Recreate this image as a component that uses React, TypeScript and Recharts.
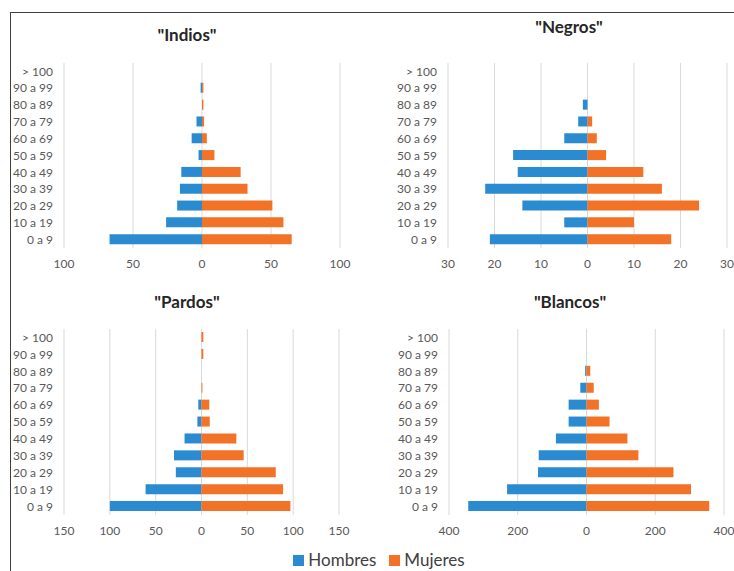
import React from 'react'
import { BarChart, Bar, XAxis, YAxis, CartesianGrid } from 'recharts'

const ages = ['0 a 9', '10 a 19', '20 a 29', '30 a 39', '40 a 49', '50 a 59', '60 a 69', '70 a 79', '80 a 89', '90 a 99', '> 100']

const indiosHombres = [67, 26, 18, 16, 15, 2.5, 7.5, 4, 0, 1, 0]
const indiosMujeres = [65, 59, 51, 33, 28, 9, 3.5, 1.5, 1, 1, 0]
const negrosHombres = [21, 5, 14, 22, 15, 16, 5, 2, 1, 0, 0]
const negrosMujeres = [18, 10, 24, 16, 12, 4, 2, 1, 0, 0, 0]
const pardosHombres = [100, 61, 28, 30, 18.5, 4.5, 3.5, 0, 0, 0, 0]
const pardosMujeres = [97, 89, 81, 46, 38, 9, 8.5, 1, 0, 2, 2]
const blancosHombres = [344, 231, 141, 139, 89, 52, 52, 18, 4, 0, 0]
const blancosMujeres = [357, 304, 253, 151, 119, 67, 36, 21, 11, 0, 0]

const indiosTicks = [-100, -50, 0, 50, 100]
const negrosTicks = [-30, -20, -10, 0, 10, 20, 30]
const pardosTicks = [-150, -100, -50, 0, 50, 100, 150]
const blancosTicks = [-400, -200, 0, 200, 400]

const seriesNames = ['Hombres', 'Mujeres']
const BLUE = '#2a8bd0'
const ORANGE = '#f27227'
const FONT = 'Lato, "Open Sans", sans-serif'

// men go to the left as negative values
const buildRows = (hombres: number[], mujeres: number[]) =>
  ages.map((age, i) => ({ age, hombres: -hombres[i], mujeres: mujeres[i] }))

type PyramidProps = {
  title: string
  data: { age: string; hombres: number; mujeres: number }[]
  ticks: number[]
  left: number
  top: number
  width: number
  height: number
  yAxisWidth: number
  margin: { top: number; right: number; bottom: number; left: number }
  titleX: number
  titleY: number
}

function Pyramid({ title, data, ticks, left, top, width, height, yAxisWidth, margin, titleX, titleY }: PyramidProps) {
  const tickStyle = { fill: '#595959', fontSize: 12, fontFamily: FONT }
  return (
    <>
      <div
        style={{
          position: 'absolute',
          left: titleX - 100,
          top: titleY - 12,
          width: 200,
          textAlign: 'center',
          fontFamily: FONT,
          fontWeight: 700,
          fontSize: 17,
          lineHeight: '24px',
          color: '#262626',
        }}
      >
        {title}
      </div>
      <div style={{ position: 'absolute', left, top }}>
        <BarChart
          width={width}
          height={height}
          data={data}
          layout="vertical"
          stackOffset="sign"
          margin={margin}
        >
          <CartesianGrid horizontal={false} stroke="#d9d9d9" />
          <XAxis
            type="number"
            domain={[ticks[0], ticks[ticks.length - 1]]}
            ticks={ticks}
            tickFormatter={(v: number) => String(Math.abs(v))}
            axisLine={false}
            tickLine={false}
            tickSize={6}
            tickMargin={5}
            height={30}
            tick={tickStyle}
            interval={0}
          />
          <YAxis
            type="category"
            dataKey="age"
            reversed
            width={yAxisWidth}
            axisLine={false}
            tickLine={false}
            tickSize={6}
            tickMargin={5}
            tick={tickStyle}
            interval={0}
          />
          <Bar dataKey="hombres" stackId="a" fill={BLUE} barSize={10} isAnimationActive={false} />
          <Bar dataKey="mujeres" stackId="a" fill={ORANGE} barSize={10} isAnimationActive={false} />
        </BarChart>
      </div>
    </>
  )
}

export default function App() {
  const colors = [BLUE, ORANGE]
  return (
    <div style={{ position: 'absolute', left: 0, top: 0, width: 734, height: 571, background: '#fff', overflow: 'hidden' }}>
      <div
        style={{
          position: 'absolute',
          left: 10,
          top: 12,
          right: 0,
          bottom: 0,
          borderTop: '1.5px solid #404040',
          borderLeft: '1.5px solid #404040',
        }}
      />
      <Pyramid
        title={'"Indios"'}
        data={buildRows(indiosHombres, indiosMujeres)}
        ticks={indiosTicks}
        left={0}
        top={0}
        width={367}
        height={290}
        yAxisWidth={64}
        margin={{ top: 63, right: 27, bottom: 12, left: 0 }}
        titleX={187}
        titleY={35}
      />
      <Pyramid
        title={'"Negros"'}
        data={buildRows(negrosHombres, negrosMujeres)}
        ticks={negrosTicks}
        left={367}
        top={0}
        width={367}
        height={290}
        yAxisWidth={81}
        margin={{ top: 63, right: 7, bottom: 12, left: 0 }}
        titleX={569}
        titleY={27}
      />
      <Pyramid
        title={'"Pardos"'}
        data={buildRows(pardosHombres, pardosMujeres)}
        ticks={pardosTicks}
        left={0}
        top={285}
        width={367}
        height={286}
        yAxisWidth={64}
        margin={{ top: 44, right: 28, bottom: 26, left: 0 }}
        titleX={187}
        titleY={302}
      />
      <Pyramid
        title={'"Blancos"'}
        data={buildRows(blancosHombres, blancosMujeres)}
        ticks={blancosTicks}
        left={367}
        top={285}
        width={367}
        height={286}
        yAxisWidth={82}
        margin={{ top: 44, right: 10, bottom: 26, left: 0 }}
        titleX={570}
        titleY={302}
      />
      <div
        style={{
          position: 'absolute',
          left: 0,
          width: 734,
          top: 549,
          display: 'flex',
          justifyContent: 'center',
          gap: 13,
          fontFamily: FONT,
          fontSize: 17,
          lineHeight: '22px',
          color: '#404040',
          paddingLeft: 24,
          boxSizing: 'border-box',
        }}
      >
        {seriesNames.map((name, i) => (
          <div key={name} style={{ display: 'flex', alignItems: 'center', gap: 4 }}>
            <span style={{ display: 'inline-block', width: 11, height: 11, background: colors[i] }} />
            <span>{name}</span>
          </div>
        ))}
      </div>
    </div>
  )
}
